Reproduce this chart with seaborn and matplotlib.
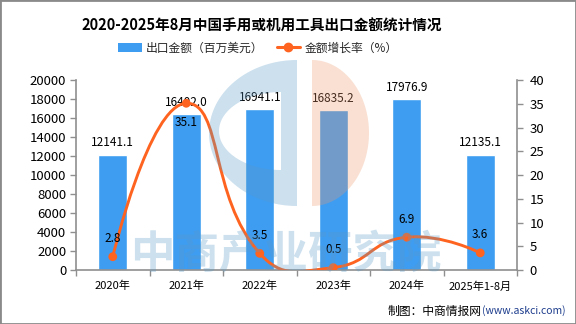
import numpy as np
import pandas as pd
import seaborn as sns
import matplotlib.pyplot as plt
from matplotlib.path import Path
from matplotlib.patches import PathPatch, Patch, Rectangle
from matplotlib.lines import Line2D

# ---- data ----
years = ["2020年", "2021年", "2022年", "2023年", "2024年", "2025年1-8月"]
export_value = [12141.1, 16402.0, 16941.1, 16835.2, 17976.9, 12135.1]  # 百万美元
growth_rate = [2.8, 35.1, 3.5, 0.5, 6.9, 3.6]  # %
left_ticks = [0, 2000, 4000, 6000, 8000, 10000, 12000, 14000, 16000, 18000, 20000]
right_ticks = [0, 5, 10, 15, 20, 25, 30, 35, 40]

df = pd.DataFrame({"year": years, "value": export_value, "rate": growth_rate})

sns.set_style("white")
plt.rcParams["font.family"] = ["Noto Sans CJK SC", "DejaVu Sans"]

BAR = "#3e9df1"
LINE = "#fe6320"
AXC = "#8f8f8f"

W, H = 576, 324
fig = plt.figure(figsize=(W / 100, H / 100), dpi=100)
fig.patch.set_facecolor("white")

L, R, T, B = 76, 517, 80, 270
ax1 = fig.add_axes([L / W, (H - B) / H, (R - L) / W, (B - T) / H])
ax1.set_facecolor("none")

sns.barplot(data=df, x="year", y="value", color=BAR, saturation=1,
            width=0.4, ax=ax1, zorder=2)
ax1.set_xlim(-0.5, len(years) - 0.5)
ax1.set_ylim(0, 20000)
ax1.set_yticks(left_ticks)
ax1.set_yticklabels([str(v) for v in left_ticks])
ax1.set_xlabel("")
ax1.set_ylabel("")
for s in ["top", "right"]:
    ax1.spines[s].set_visible(False)
for s in ["left", "bottom"]:
    ax1.spines[s].set_color(AXC)
    ax1.spines[s].set_linewidth(1.2)
ax1.tick_params(axis="y", direction="out", length=4, width=1, color=AXC,
                labelsize=9.5, pad=3, labelcolor="black", left=True)
ax1.set_xticks(range(len(years)))
ax1.set_xticklabels(years)
ax1.tick_params(axis="x", length=0, labelsize=8, pad=8, labelcolor="black")
ax1.set_xticks(np.arange(-0.5, len(years), 1.0), minor=True)
ax1.tick_params(axis="x", which="minor", direction="out", length=4,
                width=1, color=AXC, bottom=True)

# value labels above bars
for i, v in enumerate(export_value):
    ax1.annotate(f"{v:.1f}", (i, v), xytext=(0, 4), textcoords="offset points",
                 ha="center", va="bottom", fontsize=8.5, color="black")

# ---- growth rate on secondary axis ----
ax2 = ax1.twinx()
ax2.set_ylim(0, 40)
ax2.set_yticks(right_ticks)
ax2.set_yticklabels([str(v) for v in right_ticks])
for s in ["top", "left", "bottom"]:
    ax2.spines[s].set_visible(False)
ax2.spines["right"].set_color(AXC)
ax2.spines["right"].set_linewidth(1.2)
ax2.tick_params(axis="y", direction="out", length=4, width=1, color=AXC,
                labelsize=9.5, pad=5, labelcolor="black", right=True)

# smooth curve through the points (bezier, control points from neighbours)
sx = (R - L) / len(years)
sy = (B - T) / 40.0
P = np.array([[i * sx, g * sy] for i, g in enumerate(growth_rate)])
smooth = 0.5
n = len(P)
cp_in = P.copy()
cp_out = P.copy()
for i in range(1, n - 1):
    v = P[i + 1] - P[i - 1]
    d0 = np.hypot(*(P[i] - P[i - 1]))
    d1 = np.hypot(*(P[i + 1] - P[i]))
    r1 = d1 / (d0 + d1)
    cp_out[i] = P[i] + v * smooth * r1
    cp_in[i] = P[i] - v * smooth * (1 - r1)
verts = [P[0]]
codes = [Path.MOVETO]
for i in range(n - 1):
    verts += [cp_out[i], cp_in[i + 1], P[i + 1]]
    codes += [Path.CURVE4] * 3
verts = np.array(verts) / np.array([sx, sy])
ax2.add_patch(PathPatch(Path(verts, codes), facecolor="none", edgecolor=LINE,
                        linewidth=2.1, zorder=3, capstyle="round"))
sns.scatterplot(x=list(range(n)), y=growth_rate, ax=ax2, color=LINE, s=40,
                edgecolor="none", zorder=4, legend=False)
for i, g in enumerate(growth_rate):
    dy = -14 if i == 1 else 13
    ax2.annotate(f"{g:.1f}", (i, g), xytext=(0, dy), textcoords="offset points",
                 ha="center", va="center", fontsize=8.5, color="black")
ax2.set_xlim(-0.5, len(years) - 0.5)

# ---- title, legend, source ----
fig.text(261.5 / W, 1 - 26 / H, "2020-2025年8月中国手用或机用工具出口金额统计情况",
         ha="center", va="center", fontsize=10.5, fontweight="bold", color="black")

handles = [Patch(facecolor=BAR, edgecolor="none"),
           Line2D([0], [0], color=LINE, lw=2.2, marker="o", markersize=6)]
fig.legend(handles, ["出口金额（百万美元）", "金额增长率（%）"], ncol=2,
           loc="center", bbox_to_anchor=(258 / W, 1 - 48 / H), frameon=False,
           fontsize=8.5, handlelength=2.0, handleheight=0.7, handletextpad=0.35,
           columnspacing=1.1, borderpad=0)

fig.text(482 / W, 1 - 311 / H, "制图：中商情报网", ha="right", va="center",
         fontsize=8.5, color="black")
fig.text(482 / W, 1 - 311 / H, "(www.askci.com)", ha="left", va="center",
         fontsize=7.5, color="#1c3c8c")

# ---- faint logo watermark overlay (pixel coordinates) ----
ov = fig.add_axes([0, 0, 1, 1], zorder=10)
ov.set_xlim(0, W)
ov.set_ylim(H, 0)
ov.axis("off")
ov.patch.set_alpha(0)
wm_blue = (0.35, 0.6, 0.78, 0.3)
wm_orange = (0.93, 0.6, 0.43, 0.3)


def signed_area(xy):
    x, y = xy[:, 0], xy[:, 1]
    return 0.5 * np.sum(x * np.roll(y, -1) - np.roll(x, -1) * y)


th = np.linspace(np.pi / 2, 3 * np.pi / 2, 80)
outer_xy = np.vstack([np.c_[297 + 88 * np.cos(th), 133 - 73 * np.sin(th)],
                      [[297, 206]]])
hole_xy = np.vstack([np.c_[281 + 62 * np.cos(th), 131 - 39 * np.sin(th)],
                     [[281, 170]]])
if np.sign(signed_area(outer_xy)) == np.sign(signed_area(hole_xy)):
    hole_xy = hole_xy[::-1]
c_shape = Path.make_compound_path(
    Path(np.vstack([outer_xy, outer_xy[:1]]), closed=True),
    Path(np.vstack([hole_xy, hole_xy[:1]]), closed=True))
ov.add_patch(PathPatch(c_shape, facecolor=wm_blue, edgecolor="none"))
th2 = np.linspace(-np.pi / 2, np.pi / 2, 80)
orange_xy = np.c_[312 + 57 * np.cos(th2), 133 - 73 * np.sin(th2)]
ov.add_patch(plt.Polygon(orange_xy, closed=True, facecolor=wm_orange,
                         edgecolor="none"))
ov.text(286, 254, "中商产业研究院", ha="center", va="center", fontsize=32,
        fontweight="bold", color=wm_blue)

fig.add_artist(Rectangle((0, 0), 1, 1, transform=fig.transFigure, fill=False,
                         edgecolor="#8a8a8a", linewidth=2))

fig.savefig("out.png", dpi=100)
